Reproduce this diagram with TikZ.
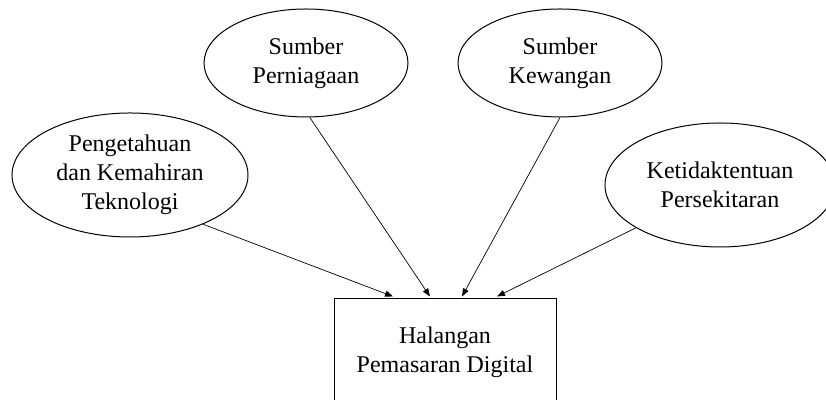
\documentclass[tikz,border=0pt]{standalone}
\usepackage{fontspec}
\setmainfont{Liberation Serif}
\usepackage{tikz}
\usetikzlibrary{positioning, arrows.meta, calc, shapes.geometric}

\begin{document}
\begin{tikzpicture}[
    x=1pt, y=1pt,
    faktor/.style={ellipse, draw, line width=0.5pt, inner sep=0pt, align=center, font=\fontsize{12}{14.5}\selectfont},
    halangan/.style={rectangle, draw, line width=0.5pt, minimum width=111pt, minimum height=53pt, align=center, font=\fontsize{12}{14.5}\selectfont},
    arr/.style={-{Triangle[length=4pt,width=3pt]}, line width=0.35pt}
  ]
  \useasboundingbox (0,0) rectangle (413,200);

  % the outcome
  \node[halangan] (box) at (222.5,24) {Halangan\\Pemasaran Digital};

  % the four factors
  \node[faktor, minimum width=102pt, minimum height=54pt] (sp) at (153,168.5) {Sumber\\Perniagaan};
  \node[faktor, minimum width=102pt, minimum height=54pt] (sk) at (280,168.5) {Sumber\\Kewangan};
  \node[faktor, minimum width=118pt, minimum height=62pt] (pk) at (65,112.5) {Pengetahuan\\dan Kemahiran\\Teknologi};
  \node[faktor, minimum width=115pt, minimum height=62pt] (kp) at (360,107.5) {Ketidaktentuan\\Persekitaran};

  % arrows into the box
  \draw[arr] (pk.-34) -- ([xshift=-26pt, yshift=1pt]box.north);
  \draw[arr] (sp.-86) -- ([xshift=-7.5pt, yshift=1pt]box.north);
  \draw[arr] (sk.south) -- ([xshift=8.5pt, yshift=1pt]box.north);
  \draw[arr] (kp.207) -- ([xshift=26pt, yshift=1pt]box.north);
\end{tikzpicture}
\end{document}
